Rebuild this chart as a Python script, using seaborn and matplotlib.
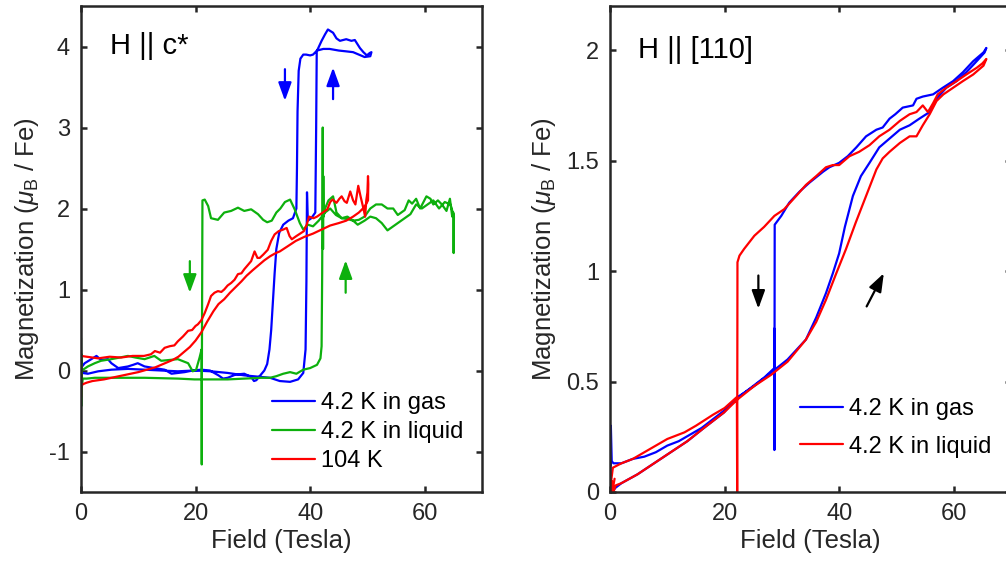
import matplotlib
matplotlib.use("Agg")
import matplotlib.pyplot as plt
import seaborn as sns
import pandas as pd

# ---------------- data: left panel (H || c*) ----------------
c_gas_B = [0, 0.2, 1.2, 3.0, 5.3, 8.2, 11.1, 14.0, 16.9, 19.8, 22.7, 25.6, 28.5, 31.5, 33.0, 34.7, 36.5, 37.9,
           38.8, 39.2, 39.35, 39.45, 39.6, 40.2, 40.9, 41.05, 41.15,
           42.0, 42.6, 43.1, 44.0, 44.6, 45.2, 46.3, 47.2, 47.8, 48.7, 49.3, 49.9, 50.4, 50.7, 50.5,
           49.5, 48.5, 47.5, 46.3, 45.0, 43.4, 42.3, 41.2, 40.5, 40.0, 39.3, 38.8, 38.3, 38.0, 37.8, 37.7, 37.6,
           37.0, 36.2, 35.3, 34.6, 34.1, 33.8, 33.5, 33.2, 32.9, 32.5, 32.0, 31.3, 30.6, 30.2, 29.7, 28.5, 27.0,
           25.6, 24.8, 24.0, 22.5, 21.0, 19.5, 18.1, 15.8, 14.6, 12.8, 11.1, 9.9, 9.1, 8.2, 6.5, 5.3, 4.7, 3.5,
           2.7, 1.8, 0.64, 0.2, 0]
c_gas_M = [0.05, -0.03, -0.04, -0.01, 0.01, 0.02, 0.01, 0.0, -0.01, 0.0, -0.01, -0.03, -0.06, -0.08, -0.09, -0.13, -0.14, -0.11,
           -0.03, 0.26, 1.1, 2.2, 1.85, 1.88, 1.95, 3.0, 3.94,
           4.07, 4.15, 4.21, 4.17, 4.10, 4.07, 4.09, 4.07, 4.08, 3.98, 3.93, 3.89, 3.92, 3.93, 3.88,
           3.87, 3.90, 3.93, 3.94, 3.95, 3.97, 3.97, 3.95, 3.90, 3.89, 3.90, 3.90, 3.85, 3.70, 3.20, 2.50, 2.00,
           1.88, 1.85, 1.80, 1.70, 1.50, 1.20, 0.85, 0.50, 0.26, 0.08, 0.0, -0.06, -0.12, -0.13, -0.08, -0.04, -0.05,
           -0.09, -0.10, -0.06, 0.0, 0.01, 0.0, -0.02, -0.04, 0.01, 0.03, 0.05, 0.09, 0.07, 0.05, 0.03, 0.09, 0.14, 0.13,
           0.18, 0.14, 0.09, 0.05, 0.0]

c_liq_B = [0, 0.05, 0.1, 0.15, 0.3, 1.0, 2.4, 5.3, 11.1, 16.9, 19.8, 22.7, 25.6, 28.5, 31.5, 33.0, 34.1, 35.3, 36.5,
           37.6, 38.8, 40.0, 41.2, 41.8, 42.0, 42.1, 42.15, 42.2, 42.25, 42.3, 42.35, 42.6, 43.2, 44.0, 44.6, 45.5,
           46.5, 47.5, 48.5, 49.5, 50.5, 51.5, 52.5, 53.5, 54.5, 55.3, 56.5, 57.2, 57.8, 58.5, 59.2, 60.3, 61.0,
           61.5, 62.3, 63.0, 63.8, 64.4, 64.8, 65.0, 65.05, 65.1,
           64.5, 63.5, 62.5, 61.5, 60.5, 59.5, 58.5, 57.5, 56.5, 55.5, 54.5, 53.5, 52.5, 51.5, 50.5, 49.5, 48.3,
           47.5, 46.5, 45.5, 44.5, 43.5, 42.6, 41.5, 40.5, 39.6, 38.8, 38.2, 37.3, 36.5, 35.6, 34.8, 34.1, 33.3,
           32.5, 31.8, 30.9, 29.7, 28.5, 27.4, 26.2, 25.0, 23.9, 22.7, 22.2, 21.6, 21.2, 21.1, 21.08, 21.05,
           20.7, 20.1, 19.5, 18.7, 16.9, 14.0, 12.8, 11.1, 9.5, 8.2, 5.3, 3.5, 2.4, 1.2, 0.35, 0.1]
c_liq_M = [0.40, -0.44, 0.20, -0.20, -0.10, -0.10, -0.09, -0.09, -0.09, -0.10, -0.11, -0.11, -0.11, -0.10, -0.09, -0.09, -0.07, -0.04, -0.02,
           -0.04, 0.01, 0.03, 0.07, 0.15, 0.30, 1.20, 2.00, 3.00, 1.50, 2.40, 1.90, 2.00, 2.10, 2.15, 1.95, 1.88,
           1.87, 1.85, 1.86, 1.90, 2.00, 2.05, 2.05, 2.00, 2.00, 1.92, 1.98, 2.10, 2.06, 2.12, 2.00, 2.15, 2.12,
           2.05, 2.10, 2.05, 1.97, 2.12, 1.90, 1.95, 1.45, 1.90,
           2.05, 2.08, 2.00, 2.10, 2.05, 2.00, 2.05, 1.93, 1.88, 1.83, 1.78, 1.73, 1.82, 1.88, 1.90, 1.85, 1.80,
           1.85, 1.90, 1.88, 1.92, 2.00, 1.95, 1.85, 1.78, 1.80, 1.74, 1.82, 1.99, 2.11, 2.08, 2.00, 1.95, 1.85,
           1.83, 1.86, 1.93, 1.99, 1.97, 2.01, 1.97, 1.95, 1.86, 1.88, 2.03, 2.11, 2.10, 0.0, -1.16, 0.26,
           0.16, 0.01, -0.01, 0.09, 0.14, 0.12, 0.18, 0.14, 0.16, 0.18, 0.14, 0.12, 0.09, 0.05, 0.01, 0.0]

c_104_B = [0, 1, 3, 5, 7, 9, 11, 12.2, 12.9, 13.8, 14.6, 15.5, 16.3, 16.9, 17.8, 18.7, 19.4, 20.0, 20.4, 21.0,
           21.6, 22.2, 22.7, 23.3, 23.9, 24.5, 25.0, 25.6, 26.2, 26.8, 27.4, 28.0, 28.5, 29.1, 29.7, 30.3, 30.8,
           31.2, 31.8, 32.6, 33.2, 33.8, 34.5, 35.3, 35.9, 36.4, 36.8, 37.6, 38.9, 39.4, 39.8, 40.6, 41.2, 41.8,
           42.4, 43.0, 43.5, 43.9, 44.6, 45.1, 45.5, 46.0, 46.4, 47.0, 47.5, 47.9, 48.4, 48.8, 49.0, 49.3, 49.6,
           49.8, 50.0, 50.1, 50.15,
           50.1, 49.5, 48.5, 47.5, 46.3, 45.0, 43.5, 42.0, 40.5, 39.0, 37.5, 36.0, 34.7, 34.0, 33.0, 32.0, 31.0,
           30.0, 28.9, 28.0, 27.0, 26.0, 25.0, 24.0, 23.1, 22.0, 21.0, 20.0, 19.0, 18.0, 17.0, 16.0, 15.0, 14.0,
           13.0, 12.0, 11.0, 10.0, 8.0, 6.0, 4.0, 2.0, 1.0, 0.3, 0, 0, 0]
c_104_M = [0.18, 0.17, 0.15, 0.17, 0.16, 0.18, 0.18, 0.20, 0.24, 0.22, 0.28, 0.30, 0.31, 0.36, 0.42, 0.49, 0.50, 0.55, 0.57, 0.62,
           0.71, 0.82, 0.92, 0.96, 0.98, 0.97, 1.00, 1.05, 1.08, 1.12, 1.19, 1.20, 1.25, 1.30, 1.35, 1.47, 1.39,
           1.39, 1.43, 1.49, 1.60, 1.68, 1.72, 1.74, 1.76, 1.66, 1.62, 1.66, 1.72, 1.80, 1.90, 1.88, 1.90, 1.93,
           1.96, 1.99, 2.08, 2.11, 2.07, 2.12, 2.15, 2.09, 2.07, 2.21, 2.10, 2.05, 2.28, 2.15, 2.09, 2.00, 1.90,
           2.10, 2.20, 2.40, 2.30,
           2.10, 2.02, 1.95, 1.90, 1.85, 1.82, 1.79, 1.74, 1.69, 1.65, 1.60, 1.53, 1.47, 1.45, 1.41, 1.36, 1.30,
           1.24, 1.17, 1.10, 1.03, 0.96, 0.88, 0.82, 0.73, 0.60, 0.47, 0.37, 0.29, 0.23, 0.17, 0.13, 0.10, 0.07,
           0.04, 0.02, 0.0, -0.02, -0.05, -0.08, -0.11, -0.13, -0.15, -0.17, -0.20, -0.33, 0.05]

# ---------------- data: right panel (H || [110]) ----------------
ab_gas_B = [0, 0.1, 0.3, 1, 2, 4.8, 7.7, 10.6, 13.5, 16.4, 19.9, 22.3, 25.2, 28.1, 31.0, 34.2, 36.0, 37.7, 38.9, 40.0,
            41.0, 42.4, 43.8, 45.3, 47.0, 48.8, 50.6, 52.3, 54.0, 55.8, 57.0, 58.7, 60.5, 62.2, 64.0, 65.4, 65.7,
            65.2, 63.4, 61.6, 59.9, 58.1, 56.4, 54.6, 53.5, 52.9, 51.1, 49.8, 48.8, 47.6, 46.5, 44.7, 43.0, 41.5,
            40.0, 38.3, 37.2, 34.8, 33.1, 31.3, 29.9, 28.75, 28.7, 28.68, 28.65, 27.0, 25.0, 22.0, 20.0, 18.0,
            16.0, 14.0, 12.0, 10.0, 8.0, 6.0, 4.0, 2.0, 0.6, 0.3, 0.15, 0.1]
ab_gas_M = [0.30, 0.05, 0.0, 0.02, 0.04, 0.08, 0.13, 0.18, 0.23, 0.29, 0.36, 0.43, 0.48, 0.54, 0.60, 0.69, 0.79, 0.90, 0.99, 1.08,
            1.20, 1.34, 1.43, 1.49, 1.56, 1.60, 1.64, 1.66, 1.69, 1.72, 1.78, 1.83, 1.86, 1.90, 1.95, 1.99, 2.01,
            1.99, 1.95, 1.90, 1.86, 1.83, 1.80, 1.79, 1.78, 1.75, 1.74, 1.71, 1.69, 1.65, 1.64, 1.61, 1.56, 1.52,
            1.49, 1.47, 1.45, 1.40, 1.36, 1.31, 1.25, 1.21, 0.19, 0.74, 0.56, 0.52, 0.48, 0.42, 0.37, 0.33,
            0.29, 0.26, 0.23, 0.21, 0.18, 0.16, 0.15, 0.13, 0.13, 0.14, 0.30, 0.12]

ab_liq_B = [0, 0.3, 0.6, 1, 2, 4.8, 7.7, 10.6, 13.5, 16.4, 19.9, 22.3, 25.2, 28.1, 31.0, 34.2, 36.0, 37.7, 39.5, 41.2,
            42.9, 44.7, 46.5, 47.6, 48.8, 50.6, 52.3, 53.5, 54.6, 55.8, 57.0, 58.2, 59.9, 61.6, 63.4, 65.2, 65.7,
            65.0, 64.0, 62.2, 60.5, 58.7, 57.2, 56.4, 55.5, 54.6, 53.5, 52.3, 50.6, 48.8, 47.0, 45.3, 43.5, 41.8,
            40.0, 38.9, 37.7, 36.0, 34.2, 32.5, 30.4, 28.7, 26.9, 25.2, 23.4, 22.6, 22.25, 22.2, 22.15, 20.0, 18.0,
            15.0, 13.0, 10.0, 8.0, 6.0, 4.0, 2.0, 0.5, 0.2, 0.4, 0.8]
ab_liq_M = [0.0, 0.05, 0.0, 0.03, 0.04, 0.08, 0.13, 0.18, 0.23, 0.29, 0.36, 0.42, 0.48, 0.53, 0.59, 0.69, 0.77, 0.87, 0.99, 1.10,
            1.22, 1.34, 1.46, 1.51, 1.54, 1.58, 1.61, 1.61, 1.66, 1.71, 1.77, 1.80, 1.83, 1.86, 1.89, 1.93, 1.96,
            1.94, 1.92, 1.89, 1.86, 1.83, 1.80, 1.76, 1.72, 1.75, 1.72, 1.71, 1.68, 1.64, 1.61, 1.57, 1.54, 1.52,
            1.48, 1.48, 1.47, 1.43, 1.39, 1.34, 1.28, 1.25, 1.20, 1.16, 1.10, 1.07, 1.04, 0.0, 0.43, 0.38, 0.35,
            0.30, 0.27, 0.24, 0.21, 0.18, 0.15, 0.13, 0.11, 0.05, 0.0, 0.06]

left_labels = ["4.2 K in gas", "4.2 K in liquid", "104 K"]
right_labels = ["4.2 K in gas", "4.2 K in liquid"]
left_title = "H || c*"
right_title = "H || [110]"
xlabel = "Field (Tesla)"
ylabel = r"Magnetization ($\mu_{\mathrm{B}}$ / Fe)"

BLUE = (0, 0, 1)
GREEN = (0.05, 0.69, 0.05)
RED = (1, 0, 0)
INK = "#262626"

sns.set_style("ticks")
plt.rcParams["font.family"] = ["Liberation Sans", "DejaVu Sans"]
plt.rcParams["mathtext.fontset"] = "custom"
plt.rcParams["mathtext.rm"] = "Liberation Sans"
plt.rcParams["mathtext.it"] = "Liberation Sans:italic"
plt.rcParams["axes.unicode_minus"] = False

W, H = 1006, 566
fig = plt.figure(figsize=(W / 100, H / 100), dpi=100)
ax1 = fig.add_axes([81 / W, 74 / H, 401 / W, 486 / H])
ax2 = fig.add_axes([610 / W, 74 / H, 401 / W, 486 / H])


def draw(ax, B, M, color, label):
    df = pd.DataFrame({"B": B, "M": M})
    sns.lineplot(data=df, x="B", y="M", sort=False, estimator=None, color=color,
                 linewidth=1.6, label=label, ax=ax)


draw(ax1, c_gas_B, c_gas_M, BLUE, left_labels[0])
draw(ax1, c_liq_B, c_liq_M, GREEN, left_labels[1])
draw(ax1, c_104_B, c_104_M, RED, left_labels[2])
draw(ax2, ab_gas_B, ab_gas_M, BLUE, right_labels[0])
draw(ax2, ab_liq_B, ab_liq_M, RED, right_labels[1])


def style(ax):
    for s in ax.spines.values():
        s.set_visible(True)
        s.set_color(INK)
        s.set_linewidth(1.8)
    ax.tick_params(direction="in", length=4.5, width=1.8, color=INK, top=True, right=True,
                   labelsize=17, labelcolor=INK, pad=8)
    ax.set_xlim(0, 70)
    ax.set_xticks([0, 20, 40, 60])
    ax.set_xlabel(xlabel, fontsize=18.5, color=INK, labelpad=3)
    ax.set_ylabel(ylabel, fontsize=18.5, color=INK, labelpad=6)


style(ax1)
style(ax2)
ax1.set_ylim(-1.5, 4.5)
ax1.set_yticks([-1, 0, 1, 2, 3, 4])
ax2.set_ylim(0, 2.2)
ax2.set_yticks([0, 0.5, 1, 1.5, 2])
ax2.set_yticklabels(["0", "0.5", "1", "1.5", "2"])

ax1.text(5.0, 4.0, left_title, fontsize=21, color="k", ha="left", va="center")
ax2.text(4.9, 2.0, right_title, fontsize=21, color="k", ha="left", va="center")


def arrow(ax, tail, head, color):
    ax.annotate("", xy=head, xytext=tail,
                arrowprops=dict(arrowstyle="-|>,head_length=1.1,head_width=0.4", color=color,
                                lw=1.6, mutation_scale=10, shrinkA=0, shrinkB=0))


arrow(ax1, (35.6, 3.72), (35.6, 3.33), BLUE)
arrow(ax1, (44.0, 3.35), (44.0, 3.74), BLUE)
arrow(ax1, (19.0, 1.35), (19.0, 0.96), GREEN)
arrow(ax1, (46.2, 0.96), (46.2, 1.36), GREEN)
arrow(ax2, (25.9, 0.98), (25.9, 0.83), "k")
arrow(ax2, (44.8, 0.84), (47.8, 0.99), "k")

leg1 = ax1.legend(loc="center left", bbox_to_anchor=((272 - 81) / 401, (492 - 432) / 486),
                  frameon=False, fontsize=17, handlelength=1.83, handletextpad=0.25,
                  labelspacing=0.3, borderpad=0, borderaxespad=0)
leg2 = ax2.legend(loc="center left", bbox_to_anchor=((800 - 610) / 401, (492 - 428) / 486),
                  frameon=False, fontsize=17, handlelength=1.83, handletextpad=0.25,
                  labelspacing=0.65, borderpad=0, borderaxespad=0)
for leg in (leg1, leg2):
    for t in leg.get_texts():
        t.set_color("k")

fig.savefig("out.png", dpi=100)
